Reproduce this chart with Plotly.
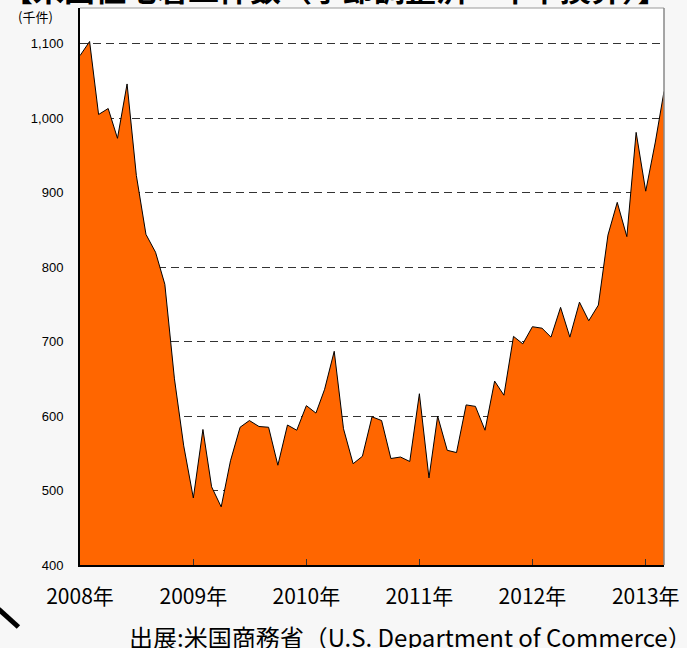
import plotly.graph_objects as go
import pandas as pd

months = pd.date_range("2008-01-01", periods=63, freq="MS")
starts = [
    1084, 1103, 1005, 1013, 973, 1046, 923, 844, 820, 777, 650, 560,
    490, 582, 505, 478, 540, 585, 594, 586, 585, 534, 588, 581,
    614, 604, 636, 687, 583, 536, 546, 599, 594, 543, 545, 539,
    630, 517, 600, 554, 551, 615, 613, 581, 647, 628, 707, 697,
    720, 718, 706, 746, 706, 753, 728, 749, 843, 887, 841, 981,
    902, 968, 1036,
]
year_ticks = ["2008-01-01", "2009-01-01", "2010-01-01", "2011-01-01", "2012-01-01", "2013-01-01"]
year_labels = ["2008年", "2009年", "2010年", "2011年", "2012年", "2013年"]
y_ticks = [400, 500, 600, 700, 800, 900, 1000, 1100]
y_labels = ["400", "500", "600", "700", "800", "900", "1,000", "1,100"]

title_text = "【米国住宅着工件数（季節調整済・年率換算）】"
unit_text = "(千件)"
source_text = "出展:米国商務省（U.S. Department of Commerce）"

W, H = 687, 648
L, R, T, B = 80, 19, 8, 83
pw, ph = W - L - R, H - T - B

def px(x):
    return (x - L) / pw

def py(y):
    return (H - B - y) / ph

fig = go.Figure()
fig.add_trace(go.Scatter(
    x=months, y=starts, mode="lines", fill="tozeroy",
    fillcolor="#FF6600", line=dict(color="#000000", width=1),
    hoverinfo="skip", showlegend=False,
))

fig.update_layout(
    width=W, height=H,
    margin=dict(l=L, r=R, t=T, b=B),
    paper_bgcolor="#F7F7F7", plot_bgcolor="#FFFFFF",
    font=dict(family="Liberation Sans, Arial, sans-serif", color="#000000"),
    xaxis=dict(
        range=[months[0], months[-1]],
        tickvals=year_ticks, ticktext=year_labels,
        ticks="inside", ticklen=6, tickcolor="#333333", tickwidth=1,
        showgrid=False, zeroline=False,
        showline=True, linecolor="#000000", linewidth=2,
        tickfont=dict(family="Noto Sans CJK JP", size=21, color="#000000"),
        ticklabelstandoff=12,
    ),
    yaxis=dict(
        range=[400, 1148],
        tickvals=y_ticks, ticktext=y_labels,
        ticks="", showgrid=True, gridcolor="#333333", gridwidth=1,
        griddash="8px,5px", zeroline=False,
        showline=True, linecolor="#000000", linewidth=2,
        tickfont=dict(family="Liberation Sans, Arial", size=13, color="#000000"),
        ticklabelstandoff=12,
    ),
)

# thin grey top/right border
fig.add_shape(type="line", xref="paper", yref="paper", x0=0, x1=1, y0=1, y1=1,
              line=dict(color="#999999", width=1))
fig.add_shape(type="line", xref="paper", yref="paper", x0=1, x1=1, y0=0, y1=1,
              line=dict(color="#888888", width=1.5))

fig.add_annotation(xref="paper", yref="paper", x=px(337), y=py(-13),
                   text="<b>" + title_text + "</b>", showarrow=False,
                   xanchor="center", yanchor="middle",
                   font=dict(family="Noto Sans CJK JP", size=31, color="#000000"))
fig.add_annotation(xref="paper", yref="paper", x=px(55), y=py(17),
                   text=unit_text, showarrow=False, xanchor="right", yanchor="middle",
                   font=dict(family="Noto Sans CJK JP", size=13, color="#000000"))
fig.add_annotation(xref="paper", yref="paper", x=px(698), y=py(636),
                   text=source_text, showarrow=False, xanchor="right", yanchor="middle",
                   font=dict(family="Noto Sans CJK JP", size=24, color="#000000"))
fig.add_shape(type="line", xref="paper", yref="paper",
              x0=px(-2), y0=py(609), x1=px(18), y1=py(627),
              line=dict(color="#000000", width=5))

fig.write_html("out.html", config={"displayModeBar": False},
               post_script="document.body.style.margin='0';")
